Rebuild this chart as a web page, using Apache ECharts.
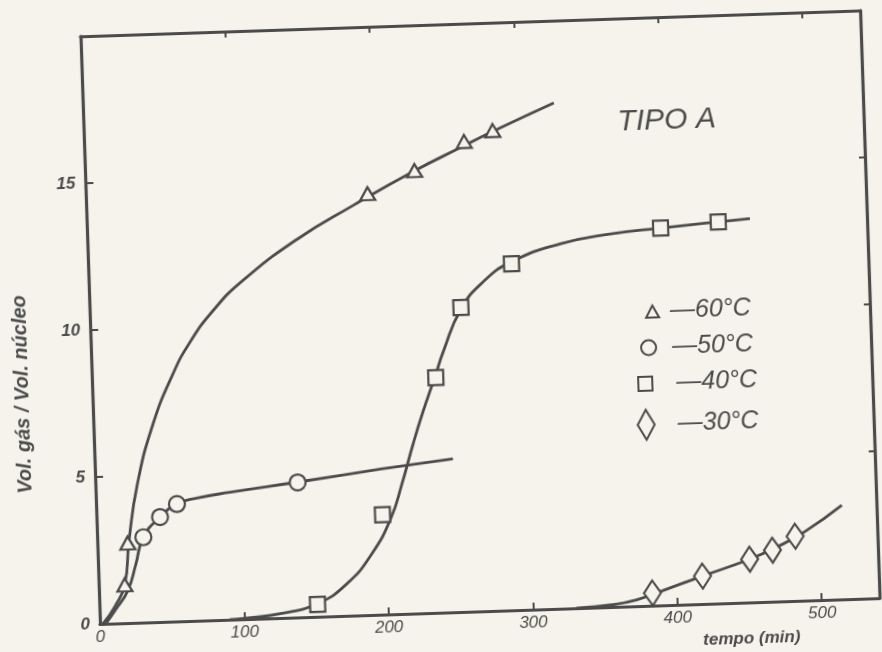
<!DOCTYPE html>
<html>
<head>
<meta charset="utf-8">
<script src="https://cdn.jsdelivr.net/npm/echarts@6/dist/echarts.min.js"></script>
<style>
  html, body { margin: 0; padding: 0; width: 882px; height: 652px; overflow: hidden; background: #f5f3eb; }
  /* the whole sheet sits slightly tilted, pivoting on the plot origin */
  #chart { position: absolute; left: 0; top: 0; width: 900px; height: 700px;
           transform-origin: 100px 624px; transform: rotate(-1.9deg); }
</style>
</head>
<body>
<div id="chart"></div>
<script>
// Tick labels
const xTickLabels = [0, 100, 200, 300, 400, 500];
const yTickLabels = [0, 5, 10, 15];

// Legend names
const names = ['—60°C', '—50°C', '—40°C', '—30°C'];

// Measured points: [tempo (min), vol. gás / vol. núcleo]
const points60 = [[18, 1.3], [21, 2.72], [195, 14.33], [228, 15.06], [263, 15.99], [283, 16.33]];
const points50 = [[32, 2.9], [44, 3.57], [56, 3.99], [140, 4.59]];
const points40 = [[151, 0.42], [198, 3.4], [238, 8.0], [257, 10.35], [293, 11.78], [397, 12.83], [437, 12.97]];
const points30 = [[383, 0.43], [418, 0.95], [451, 1.47], [467, 1.75], [483, 2.2]];

// Hand-drawn trend curves through each set
const curve60 = [[2, 0], [11, 0.6], [18, 1.3], [22, 2.8], [29, 4.7], [41, 6.7], [56, 8.4], [69, 9.5],
                 [85, 10.5], [105, 11.45], [145, 12.85], [185, 13.95], [228, 15.05], [263, 15.85],
                 [283, 16.3], [326, 17.2]];
const curve50 = [[4, 0], [11, 0.46], [20, 1.1], [26, 1.96], [32, 2.9], [44, 3.57], [56, 3.99], [70, 4.17],
                 [93, 4.33], [140, 4.6], [198, 4.95], [248, 5.22]];
const curve40 = [[90, 0], [100, 0.03], [125, 0.15], [151, 0.45], [172, 1.1], [190, 2.1], [204, 3.3],
                 [212, 4.4], [221, 5.8], [228, 6.8], [238, 8.1], [244, 8.9], [257, 10.3], [273, 11.2],
                 [293, 11.85], [327, 12.4], [362, 12.68], [397, 12.83], [437, 12.97], [459, 13.05]];
const curve30 = [[330, 0], [355, 0.08], [372, 0.22], [390, 0.5], [418, 0.95], [451, 1.47], [470, 1.85],
                 [490, 2.35], [516, 3.2]];

const INK = '#4b4b4b';
const PAPER = '#f5f3eb';
const FONT = '"Liberation Sans", Arial, sans-serif';

const chart = echarts.init(document.getElementById('chart'), null, { renderer: 'canvas' });

function trend(data) {
  return {
    type: 'line', data, smooth: 0.5, showSymbol: false, symbol: 'none',
    lineStyle: { color: INK, width: 2.8 }, silent: true, z: 2, animation: false
  };
}
function marks(name, data, symbol, size) {
  return {
    type: 'scatter', name, data, symbol, symbolSize: size,
    itemStyle: { color: PAPER, borderColor: INK, borderWidth: 2.2, opacity: 1 },
    z: 3, animation: false
  };
}
function legendRow(name, icon, w, h, left, cy, padLeft) {
  return {
    data: [{ name, icon, itemStyle: { color: PAPER, borderColor: INK, borderWidth: 2 } }],
    left, top: cy - 15, padding: 0, itemWidth: w, itemHeight: h, selectedMode: false,
    textStyle: { fontFamily: FONT, fontStyle: 'italic', fontSize: 25, lineHeight: 30,
                 color: INK, padding: [0, 0, 0, padLeft] }
  };
}

const frameAxis = { lineStyle: { color: INK, width: 3.2 } };

chart.setOption({
  backgroundColor: 'transparent',
  animation: false,
  grid: { left: 100, top: 36, width: 780, height: 588, containLabel: false },
  xAxis: [
    {
      type: 'value', position: 'bottom', min: 0, max: 540, interval: 100,
      axisLine: Object.assign({ show: true, onZero: false }, frameAxis),
      axisTick: { show: true, inside: true, length: 7, lineStyle: { color: INK, width: 2 } },
      axisLabel: {
        margin: 5, fontFamily: FONT, fontStyle: 'italic', fontSize: 17, color: INK,
        showMaxLabel: false,
        formatter: v => (xTickLabels.indexOf(v) >= 0 ? String(v) : '')
      },
      splitLine: { show: false }
    },
    {
      type: 'value', position: 'top', min: 0, max: 540, interval: 100,
      axisLine: Object.assign({ show: true, onZero: false }, frameAxis),
      axisTick: { show: true, inside: true, length: 6, lineStyle: { color: INK, width: 2 } },
      axisLabel: { show: false }, splitLine: { show: false }
    }
  ],
  yAxis: [
    {
      type: 'value', position: 'left', min: 0, max: 20, interval: 5,
      axisLine: Object.assign({ show: true, onZero: false }, frameAxis),
      axisTick: { show: true, inside: true, length: 8, lineStyle: { color: INK, width: 2 } },
      axisLabel: {
        margin: 10, fontFamily: FONT, fontStyle: 'italic', fontWeight: 'bold', fontSize: 17, color: INK,
        showMaxLabel: false,
        formatter: v => (yTickLabels.indexOf(v) >= 0 ? String(v) : '')
      },
      splitLine: { show: false }
    },
    {
      type: 'value', position: 'right', min: 0, max: 20, interval: 5,
      axisLine: Object.assign({ show: true, onZero: false }, frameAxis),
      axisTick: { show: true, inside: true, length: 6, lineStyle: { color: INK, width: 2 } },
      axisLabel: { show: false }, splitLine: { show: false }
    }
  ],
  legend: [
    legendRow(names[0], 'triangle', 13, 12, 655, 330, 6),
    legendRow(names[1], 'circle', 15, 15, 649, 366, 11),
    legendRow(names[2], 'rect', 14, 14, 645, 402, 19),
    legendRow(names[3], 'diamond', 17, 30, 643, 442, 18)
  ],
  graphic: [
    {
      type: 'text', x: 683, y: 140,
      style: { text: 'TIPO A', font: 'italic 30px ' + FONT, fill: INK, align: 'center', verticalAlign: 'middle' }
    },
    {
      type: 'text', x: 30, y: 392, rotation: Math.PI / 2,
      style: { text: 'Vol. gás / Vol. núcleo', font: 'italic bold 20px ' + FONT, fill: INK,
               align: 'center', verticalAlign: 'middle' }
    },
    {
      type: 'text', x: 751, y: 660,
      style: { text: 'tempo (min)', font: 'italic bold 17px ' + FONT, fill: INK,
               align: 'center', verticalAlign: 'middle' }
    }
  ],
  series: [
    trend(curve60), trend(curve50), trend(curve40), trend(curve30),
    marks(names[0], points60, 'triangle', [15, 13]),
    marks(names[1], points50, 'circle', 16),
    marks(names[2], points40, 'rect', 15),
    marks(names[3], points30, 'diamond', [17, 25])
  ]
});
</script>
</body>
</html>
